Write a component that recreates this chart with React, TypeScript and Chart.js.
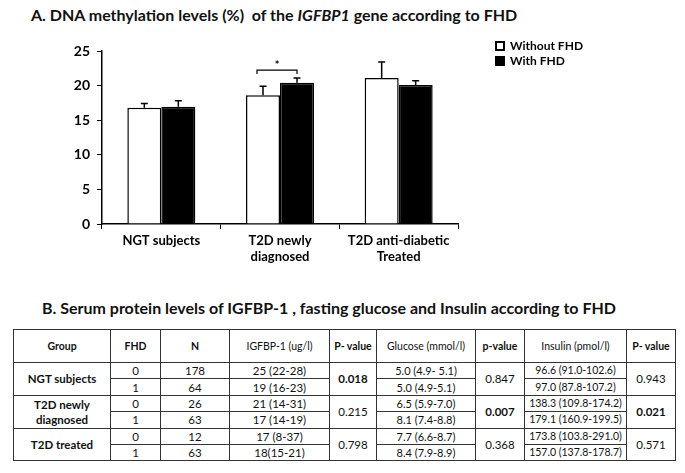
import React, { useEffect, useRef } from "react";
import { Chart, registerables } from "chart.js";

Chart.register(...registerables);

// ---------- Chart A data ----------
const categories: string[][] = [["NGT subjects"], ["T2D newly", "diagnosed"], ["T2D anti-diabetic", "Treated"]];
const seriesNames = ["Without FHD", "With FHD"];
const withoutFHD = [16.8, 18.6, 21.1];
const withFHD = [16.95, 20.4, 20.1];
const withoutFHDErr = [0.6, 1.3, 2.3];
const withFHDErr = [0.85, 0.7, 0.6];
const yMin = 0;
const yMax = 25;
const yStep = 5;
const sigCategoryIndex = 1;
const sigLevel = 22.25;
const sigLabel = "*";

// ---------- Table B data ----------
const tableHeaders = ["Group", "FHD", "N", "IGFBP-1 (ug/l)", "P- value", "Glucose (mmol/l)", "p-value", "Insulin (pmol/l)", "P- value"];
const groupNames: string[][] = [["NGT subjects"], ["T2D newly", "diagnosed"], ["T2D treated"]];
const fhdCodes = ["0", "1"];
const sampleN = [["178", "64"], ["26", "63"], ["12", "63"]];
const igfbp1 = [["25 (22-28)", "19 (16-23)"], ["21 (14-31)", "17 (14-19)"], ["17 (8-37)", "18(15-21)"]];
const pIgfbp1 = ["0.018", "0.215", "0.798"];
const glucose = [["5.0 (4.9- 5.1)", "5.0 (4.9-5.1)"], ["6.5 (5.9-7.0)", "8.1 (7.4-8.8)"], ["7.7 (6.6-8.7)", "8.4 (7.9-8.9)"]];
const pGlucose = ["0.847", "0.007", "0.368"];
const insulin = [["96.6 (91.0-102.6)", "97.0 (87.8-107.2)"], ["138.3 (109.8-174.2)", "179.1 (160.9-199.5)"], ["173.8 (103.8-291.0)", "157.0 (137.8-178.7)"]];
const pInsulin = ["0.943", "0.021", "0.571"];
const significant = (p: string) => parseFloat(p) < 0.05;

const FONT = "Lato, 'Open Sans', sans-serif";
const colWidths = [97, 50, 69, 100, 47, 99, 49, 102, 49];

const errorBarPlugin = {
  id: "errorBars",
  afterDatasetsDraw(chart: any) {
    const ctx = chart.ctx;
    const y = chart.scales.y;
    const errs = [withoutFHDErr, withFHDErr];
    errs.forEach((errArr, di) => {
      const meta = chart.getDatasetMeta(di);
      meta.data.forEach((bar: any, i: number) => {
        const v = chart.data.datasets[di].data[i] as number;
        const base = y.getPixelForValue(v);
        const top = y.getPixelForValue(v + errArr[i]);
        ctx.save();
        ctx.strokeStyle = "#000";
        ctx.lineWidth = 1.5;
        ctx.beginPath();
        ctx.moveTo(bar.x, base);
        ctx.lineTo(bar.x, top);
        ctx.moveTo(bar.x - 3.5, top);
        ctx.lineTo(bar.x + 3.5, top);
        ctx.stroke();
        ctx.restore();
      });
    });
    // significance bracket
    const b0 = chart.getDatasetMeta(0).data[sigCategoryIndex];
    const b1 = chart.getDatasetMeta(1).data[sigCategoryIndex];
    const yy = y.getPixelForValue(sigLevel);
    const x0 = b0.x - 6;
    const x1 = b1.x;
    ctx.save();
    ctx.strokeStyle = "#000";
    ctx.lineWidth = 1.2;
    ctx.beginPath();
    ctx.moveTo(x0, yy + 4);
    ctx.lineTo(x0, yy);
    ctx.lineTo(x1, yy);
    ctx.lineTo(x1, yy + 4);
    ctx.stroke();
    ctx.fillStyle = "#000";
    ctx.font = `bold 11px ${FONT}`;
    ctx.textAlign = "center";
    ctx.textBaseline = "middle";
    ctx.fillText(sigLabel, (x0 + x1) / 2, yy - 5);
    ctx.restore();
  },
};

function BarChart() {
  const ref = useRef<HTMLCanvasElement>(null);
  useEffect(() => {
    if (!ref.current) return;
    const chart = new Chart(ref.current, {
      type: "bar",
      data: {
        labels: categories,
        datasets: [
          {
            label: seriesNames[0],
            data: withoutFHD,
            backgroundColor: "#fff",
            borderColor: "#000",
            borderWidth: 1.5,
          },
          {
            label: seriesNames[1],
            data: withFHD,
            backgroundColor: "#000",
            borderColor: "#000",
            borderWidth: 1.5,
          },
        ],
      },
      options: {
        responsive: false,
        animation: false,
        devicePixelRatio: 1,
        datasets: { bar: { categoryPercentage: 0.573, barPercentage: 1 } },
        layout: { padding: { left: 0, right: 227, top: 51, bottom: 0 } },
        plugins: { legend: { display: false }, title: { display: false }, tooltip: { enabled: false } },
        scales: {
          x: {
            grid: { display: true, drawOnChartArea: false, drawTicks: true, tickLength: 5, offset: true, color: "#000", lineWidth: 1 },
            border: { display: true, color: "#000", width: 1.5 },
            ticks: { color: "#000", font: { family: FONT, weight: "bold", size: 13 }, padding: 4, maxRotation: 0, autoSkip: false },
            afterFit: (s: any) => { s.height = 51; },
          },
          y: {
            min: yMin,
            max: yMax,
            grid: { display: true, drawOnChartArea: false, drawTicks: true, tickLength: 5, color: "#000" },
            border: { display: true, color: "#000", width: 1.5 },
            ticks: { stepSize: yStep, color: "#000", font: { family: FONT, weight: "bold", size: 14 }, padding: 7 },
            afterFit: (s: any) => { s.width = 102; },
          },
        },
      },
      plugins: [errorBarPlugin],
    } as any);
    return () => chart.destroy();
  }, []);
  return <canvas ref={ref} width={685} height={275} style={{ position: "absolute", left: 0, top: 0, width: 685, height: 275 }} />;
}

const cellBase: React.CSSProperties = {
  border: "1px solid #333",
  textAlign: "center",
  padding: 0,
  color: "#111",
  whiteSpace: "nowrap",
  overflow: "hidden",
};

function StatsTable() {
  const rowH = 16.4;
  return (
    <table
      style={{
        position: "absolute",
        left: 13,
        top: 329,
        width: 662,
        borderCollapse: "collapse",
        tableLayout: "fixed",
        fontFamily: FONT,
        fontSize: 10.5,
        border: "1.5px solid #000",
        lineHeight: "13px",
      }}
    >
      <colgroup>
        {colWidths.map((w, i) => (
          <col key={i} style={{ width: w }} />
        ))}
      </colgroup>
      <tbody>
        <tr style={{ height: 33 }}>
          {tableHeaders.map((h, i) => (
            <td key={i} style={{ ...cellBase, fontWeight: i < 3 || i === 4 || i === 6 || i === 8 ? "bold" : "normal" }}>
              {h}
            </td>
          ))}
        </tr>
        {groupNames.map((g, gi) =>
          fhdCodes.map((f, fi) => (
            <tr key={`${gi}-${fi}`} style={{ height: rowH }}>
              {fi === 0 && (
                <td rowSpan={2} style={{ ...cellBase, fontWeight: "bold", fontSize: 11.5, lineHeight: "15px" }}>
                  {g.map((line, li) => (
                    <div key={li}>{line}</div>
                  ))}
                </td>
              )}
              <td style={{ ...cellBase, fontSize: 11.5 }}>{f}</td>
              <td style={{ ...cellBase, fontSize: 11.5 }}>{sampleN[gi][fi]}</td>
              <td style={{ ...cellBase, fontSize: 11.5 }}>{igfbp1[gi][fi]}</td>
              {fi === 0 && (
                <td rowSpan={2} style={{ ...cellBase, fontSize: 11.5, fontWeight: significant(pIgfbp1[gi]) ? "bold" : "normal" }}>
                  {pIgfbp1[gi]}
                </td>
              )}
              <td style={{ ...cellBase, fontSize: 11 }}>{glucose[gi][fi]}</td>
              {fi === 0 && (
                <td rowSpan={2} style={{ ...cellBase, fontSize: 11.5, fontWeight: significant(pGlucose[gi]) ? "bold" : "normal" }}>
                  {pGlucose[gi]}
                </td>
              )}
              <td style={cellBase}>{insulin[gi][fi]}</td>
              {fi === 0 && (
                <td rowSpan={2} style={{ ...cellBase, fontSize: 11.5, fontWeight: significant(pInsulin[gi]) ? "bold" : "normal" }}>
                  {pInsulin[gi]}
                </td>
              )}
            </tr>
          ))
        )}
      </tbody>
    </table>
  );
}

export default function App() {
  return (
    <div style={{ position: "absolute", left: 0, top: 0, width: 685, height: 473, background: "#fff", overflow: "hidden" }}>
      <div
        style={{
          position: "absolute",
          left: 31,
          top: 5,
          fontFamily: FONT,
          fontWeight: "bold",
          fontSize: 16,
          lineHeight: "20px",
          color: "#111",
          whiteSpace: "pre",
        }}
      >
        {"A. DNA methylation levels (%)  of the "}
        <i>IGFBP1</i>
        {" gene according to FHD"}
      </div>
      <BarChart />
      {seriesNames.map((name, i) => (
        <div key={i} style={{ position: "absolute", left: 495, top: 38 + i * 15, height: 15, display: "flex", alignItems: "center", fontFamily: FONT, fontWeight: "bold", fontSize: 12, color: "#000" }}>
          <span style={{ display: "inline-block", width: 6, height: 6, border: "2px solid #000", background: i === 0 ? "#fff" : "#000", marginRight: 5 }} />
          {name}
        </div>
      ))}
      <div
        style={{
          position: "absolute",
          left: 42,
          top: 297,
          fontFamily: FONT,
          fontWeight: "bold",
          fontSize: 16,
          lineHeight: "22px",
          color: "#111",
          whiteSpace: "pre",
        }}
      >
        {"B. Serum protein levels of IGFBP-1 , fasting glucose and Insulin according to FHD"}
      </div>
      <StatsTable />
    </div>
  );
}
